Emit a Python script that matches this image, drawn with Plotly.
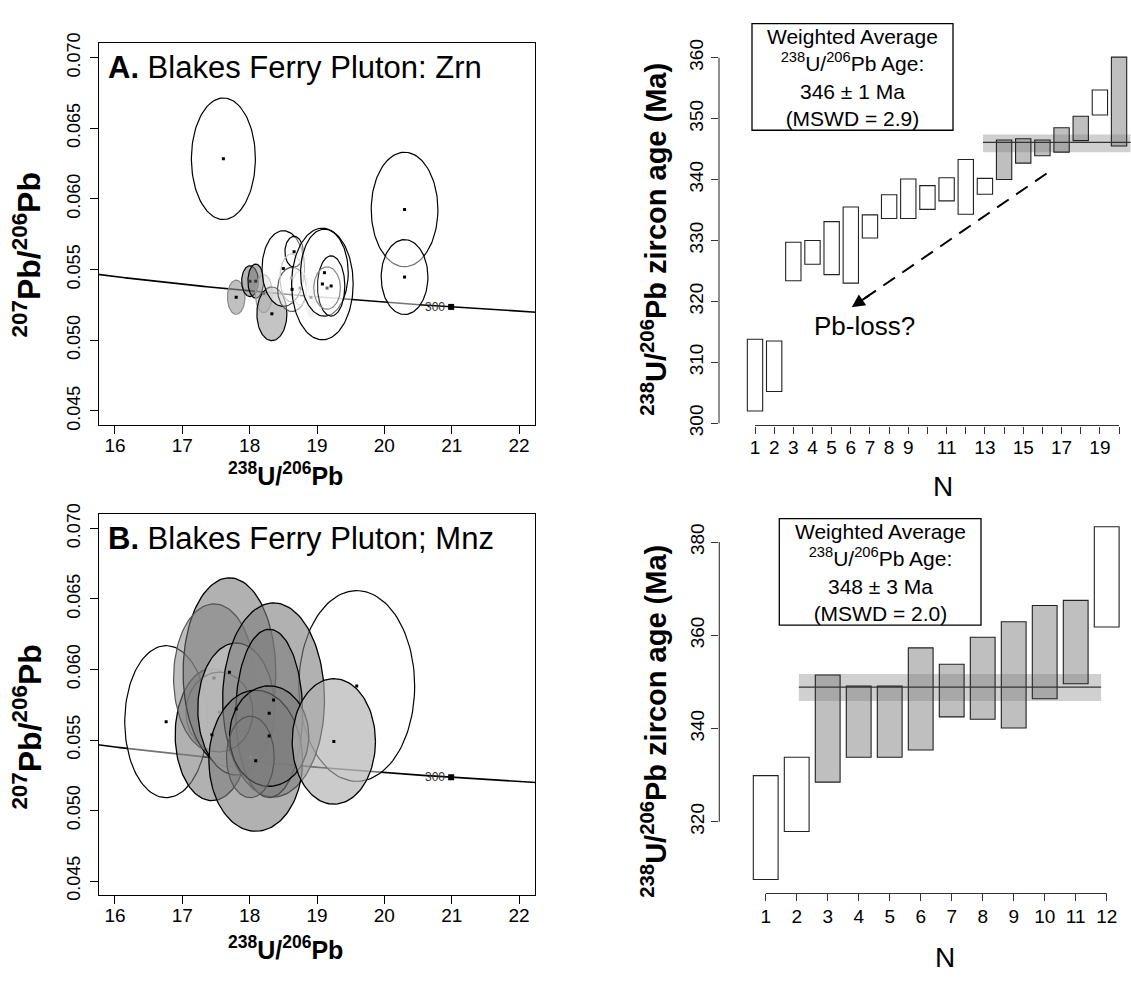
import numpy as np
import plotly.graph_objects as go

W, H = 1131, 982
FONT = "Liberation Sans"

# ---------------- data ----------------
# Panel A (zircon) ellipses: centre x (238U/206Pb), centre y (207Pb/206Pb), half-axes
A_X  = [17.61, 20.30, 20.30, 17.80, 18.005, 18.09, 18.21, 18.33, 18.50, 18.66, 18.63, 18.62, 18.75, 18.91, 19.08, 19.11, 19.21, 19.15]
A_Y  = [0.06284, 0.05925, 0.05447, 0.05304, 0.05418, 0.05418, 0.05330, 0.05187, 0.05507, 0.05626, 0.05360, 0.05441, 0.05370, 0.05303, 0.05398, 0.05478, 0.05384, 0.05369]
A_SX = [0.475, 0.495, 0.347, 0.130, 0.124, 0.116, 0.126, 0.223, 0.316, 0.136, 0.215, 0.170, 0.120, 0.087, 0.457, 0.354, 0.203, 0.198]
A_SY = [0.0043, 0.00405, 0.00265, 0.00121, 0.00109, 0.00121, 0.00135, 0.0019, 0.00268, 0.00109, 0.00156, 0.0017, 0.0012, 0.00144, 0.00395, 0.00308, 0.00213, 0.0015]
A_KIND = ["white", "white", "white", "light", "dark", "dark", "pale", "mid", "white", "white", "whitegrey",
          "faint", "faint", "ghost", "white", "white", "white", "whitegrey2"]

# Panel B (monazite) ellipses (drawing order)
B_X  = [16.76, 19.59, 17.44, 17.70, 17.47, 17.80, 18.355, 18.29, 18.09, 18.29, 19.25, 18.01, 17.55]
B_Y  = [0.0563, 0.05883, 0.05538, 0.0598, 0.0594, 0.0572, 0.05784, 0.05689, 0.05353, 0.05528, 0.0549, 0.0538, 0.05698]
B_SX = [0.615, 0.86, 0.546, 0.688, 0.60, 0.57, 0.756, 0.496, 0.695, 0.588, 0.618, 0.354, 0.496]
B_SY = [0.00539, 0.00676, 0.00468, 0.0067, 0.00525, 0.00468, 0.00688, 0.00597, 0.005, 0.00356, 0.00445, 0.00289, 0.00283]
B_KIND = ["white", "white", "bmid", "bdark", "bgreyline", "bpale", "bmid", "bmid", "bmid", "bdark", "blight", "bgreyline", "bfaint"]

# Concordia (ages in Ma) and decay constants
CONC_AGES = list(range(250, 421))
MARKER_AGE = 300
L238, L235, U85 = 1.55125e-10, 9.8485e-10, 137.818

# Top-right: zircon 238U/206Pb ages (Ma), ranked
TOP_N  = list(range(1, 21))
TOP_LO = [302.0, 305.2, 323.4, 326.1, 324.4, 323.0, 330.4, 333.6, 333.6, 335.1, 336.5, 334.3, 337.6, 340.0, 342.7, 343.9, 344.5, 346.4, 350.6, 345.5]
TOP_HI = [313.8, 313.5, 329.7, 330.0, 333.1, 335.5, 334.2, 337.5, 340.1, 339.0, 340.3, 343.3, 340.2, 346.5, 346.7, 346.5, 348.5, 350.4, 354.7, 360.1]
TOP_USED = [0]*13 + [1, 1, 1, 1, 1, 0, 1]
TOP_MEAN, TOP_MEAN_LO, TOP_MEAN_HI = 346.1, 344.5, 347.4
TOP_BAND_N = [12.9, 20.6]
TOP_TICKS = list(range(1, 21))
TOP_TICKTEXT = ["1", "2", "3", "4", "5", "6", "7", "8", "9", "", "11", "", "13", "", "15", "", "17", "", "19", ""]
TOP_BOX = ["Weighted Average", "<sup>238</sup>U/<sup>206</sup>Pb Age:", "346 ± 1 Ma", "(MSWD = 2.9)"]

# Bottom-right: monazite 238U/206Pb ages (Ma), ranked
BOT_N  = list(range(1, 13))
BOT_LO = [307.6, 317.9, 328.5, 333.85, 333.85, 335.4, 342.5, 342.0, 340.1, 346.4, 349.6, 361.8]
BOT_HI = [329.9, 333.85, 351.5, 349.1, 349.1, 357.3, 353.8, 359.6, 362.9, 366.4, 367.5, 383.3]
BOT_USED = [0, 0, 1, 1, 1, 1, 1, 1, 1, 1, 1, 0]
BOT_MEAN, BOT_MEAN_LO, BOT_MEAN_HI = 348.9, 345.9, 351.7
BOT_BAND_N = [2.07, 11.82]
BOT_BOX = ["Weighted Average", "<sup>238</sup>U/<sup>206</sup>Pb Age:", "348 ± 3 Ma", "(MSWD = 2.0)"]

# Pb-loss arrow (N, age)
ARROW_FROM = (16.22, 341.0)
ARROW_TO = (6.05, 319.05)

# ---------------- styles ----------------
STYLE = {
    "white":      dict(fill="rgba(255,255,255,0.45)", line="#000000", w=1.2, dot="#000"),
    "whitegrey":  dict(fill="rgba(255,255,255,0.3)", line="#555555", w=1.2, dot="#000"),
    "whitegrey2": dict(fill="rgba(255,255,255,0.2)", line="#888888", w=1.2, dot="#666"),
    "light":      dict(fill="rgba(150,150,150,0.6)", line="#8a8a8a", w=1.2, dot="#000"),
    "dark":       dict(fill="rgba(120,120,120,0.55)", line="#000000", w=1.2, dot="#333"),
    "pale":       dict(fill="rgba(190,190,190,0.5)", line="#999999", w=1.2, dot="#777"),
    "mid":        dict(fill="rgba(165,165,165,0.65)", line="#000000", w=1.2, dot="#000"),
    "faint":      dict(fill="rgba(255,255,255,0)", line="#c8c8c8", w=1.2, dot="#aaa"),
    "ghost":      dict(fill="rgba(228,228,228,0.8)", line="rgba(0,0,0,0)", w=0, dot="#aaa"),
    "bdark":      dict(fill="rgba(125,125,125,0.6)", line="#000000", w=1.3, dot="#000"),
    "bmid":       dict(fill="rgba(125,125,125,0.6)", line="#000000", w=1.3, dot="#000"),
    "bgreyline":  dict(fill="rgba(125,125,125,0.5)", line="#555555", w=1.2, dot="#888"),
    "blight":     dict(fill="rgba(175,175,175,0.65)", line="#000000", w=1.3, dot="#000"),
    "bpale":      dict(fill="rgba(190,190,190,0.85)", line="#000000", w=1.3, dot="#000"),
    "bfaint":     dict(fill="rgba(255,255,255,0)", line="rgba(80,80,80,0.45)", w=1.2, dot="#999"),
}
GRAY_BAR = "rgba(128,128,128,0.5)"
BAND = "rgba(128,128,128,0.37)"


def px(x):
    return x / W


def py(y):
    return 1 - y / H


def ellipse(cx, cy, sx, sy, n=120):
    th = np.linspace(0, 2 * np.pi, n)
    return cx + sx * np.cos(th), cy + sy * np.sin(th)


def concordia(ages_ma):
    t = np.asarray(ages_ma, dtype=float) * 1e6
    e8 = np.exp(L238 * t) - 1
    e5 = np.exp(L235 * t) - 1
    return 1 / e8, e5 / e8 / U85


fig = go.Figure()

# ---------------- ellipse panels ----------------
for (xs, ys, sxs, sys_, kinds, xa, ya) in [
    (A_X, A_Y, A_SX, A_SY, A_KIND, "x", "y"),
    (B_X, B_Y, B_SX, B_SY, B_KIND, "x2", "y2"),
]:
    cxc, cyc = concordia(CONC_AGES)
    fig.add_trace(go.Scatter(x=cxc, y=cyc, mode="lines", line=dict(color="black", width=1.6),
                             xaxis=xa, yaxis=ya, hoverinfo="skip"))
    for cx, cy, sx, sy, k in zip(xs, ys, sxs, sys_, kinds):
        st = STYLE[k]
        ex, ey = ellipse(cx, cy, sx, sy)
        fig.add_trace(go.Scatter(x=ex, y=ey, mode="lines", fill="toself", fillcolor=st["fill"],
                                 line=dict(color=st["line"], width=st["w"]),
                                 xaxis=xa, yaxis=ya, hoverinfo="skip"))
    fig.add_trace(go.Scatter(x=xs, y=ys, mode="markers",
                             marker=dict(symbol="square", size=3, color=[STYLE[k]["dot"] for k in kinds]),
                             xaxis=xa, yaxis=ya, hoverinfo="skip"))
    mx, my = concordia([MARKER_AGE])
    fig.add_trace(go.Scatter(x=mx, y=my, mode="markers", marker=dict(symbol="square", size=6, color="black"),
                             xaxis=xa, yaxis=ya, hoverinfo="skip"))
    fig.add_annotation(x=mx[0], y=my[0], xref=xa, yref=ya, text=str(MARKER_AGE), showarrow=False,
                       xanchor="right", xshift=-4, font=dict(size=12, color="#333", family=FONT))

# ---------------- bar panels ----------------
for (ns, lo, hi, used, xa, ya) in [
    (TOP_N, TOP_LO, TOP_HI, TOP_USED, "x3", "y3"),
    (BOT_N, BOT_LO, BOT_HI, BOT_USED, "x4", "y4"),
]:
    fig.add_trace(go.Bar(x=ns, base=lo, y=[h - l for h, l in zip(hi, lo)], width=0.8,
                         marker=dict(color=[GRAY_BAR if u else "white" for u in used],
                                     line=dict(color="#222", width=1.1)),
                         xaxis=xa, yaxis=ya, hoverinfo="skip"))

# Weighted mean bands and lines
for (band_n, m, mlo, mhi, xa, ya) in [
    (TOP_BAND_N, TOP_MEAN, TOP_MEAN_LO, TOP_MEAN_HI, "x3", "y3"),
    (BOT_BAND_N, BOT_MEAN, BOT_MEAN_LO, BOT_MEAN_HI, "x4", "y4"),
]:
    fig.add_shape(type="rect", xref=xa, yref=ya, x0=band_n[0], x1=band_n[1], y0=mlo, y1=mhi,
                  fillcolor=BAND, line=dict(width=0), layer="below")
    fig.add_shape(type="line", xref=xa, yref=ya, x0=band_n[0], x1=band_n[1], y0=m, y1=m,
                  line=dict(color="#333", width=1.2), layer="above")

# Pb-loss dashed arrow
slope = (ARROW_FROM[1] - ARROW_TO[1]) / (ARROW_FROM[0] - ARROW_TO[0])
tail_n = ARROW_TO[0] + 0.55
fig.add_trace(go.Scatter(x=[ARROW_FROM[0], tail_n], y=[ARROW_FROM[1], ARROW_TO[1] + 0.55 * slope],
                         mode="lines", line=dict(color="black", width=2, dash="14px,9px"),
                         xaxis="x3", yaxis="y3", hoverinfo="skip"))
fig.add_annotation(x=ARROW_TO[0], y=ARROW_TO[1], ax=ARROW_TO[0] + 1.0, ay=ARROW_TO[1] + 1.0 * slope,
                   xref="x3", yref="y3", axref="x3", ayref="y3", text="", showarrow=True,
                   arrowhead=2, arrowsize=1.3, arrowwidth=2, arrowcolor="black")
fig.add_annotation(x=6.74, y=315.9, xref="x3", yref="y3", text="Pb-loss?", showarrow=False,
                   font=dict(size=26, family=FONT, color="black"))

# ---------------- axes ----------------
TICKF = dict(size=19, family=FONT, color="black")
YTICKF = dict(size=18, family=FONT, color="black")
frame = dict(showline=True, mirror=True, linecolor="black", linewidth=1.2, ticks="outside",
             ticklen=8, tickwidth=1.2, tickcolor="black", showgrid=False, zeroline=False)
left_xdom = [px(98.8), px(535.2)]
yvals = [0.045, 0.050, 0.055, 0.060, 0.065, 0.070]
ytext = ["%.3f" % v for v in yvals]
xvals = [16, 17, 18, 19, 20, 21, 22]

layout = dict(
    width=W, height=H, margin=dict(l=0, r=0, t=0, b=0),
    paper_bgcolor="white", plot_bgcolor="rgba(0,0,0,0)", showlegend=False,
    font=dict(family=FONT, color="black"),
    xaxis=dict(domain=left_xdom, range=[15.76, 22.24], anchor="y", tickvals=xvals,
               tickfont=TICKF, ticklabelstandoff=-5, **frame),
    yaxis=dict(domain=[py(423.5), py(33.2)], range=[0.044, 0.071], anchor="x", tickvals=yvals,
               ticktext=ytext, tickangle=-90, tickfont=YTICKF, ticklabelstandoff=3, **frame),
    xaxis2=dict(domain=left_xdom, range=[15.76, 22.24], anchor="y2", tickvals=xvals,
                tickfont=TICKF, ticklabelstandoff=-5, **frame),
    yaxis2=dict(domain=[py(904.4), py(514.9)], range=[0.044, 0.071], anchor="x2", tickvals=yvals,
                ticktext=ytext, tickangle=-90, tickfont=YTICKF, ticklabelstandoff=3, **frame),
)
raxis = dict(showline=False, ticks="outside", ticklen=7, tickwidth=1.1, tickcolor="#333",
             showgrid=False, zeroline=False, tickfont=TICKF)
layout["xaxis3"] = dict(domain=[px(719), 1.0], range=[-0.879, 20.624], anchor="y3",
                        tickvals=TOP_TICKS, ticktext=TOP_TICKTEXT, ticklabelstandoff=-2, **raxis)
layout["yaxis3"] = dict(domain=[py(424), py(0)], range=[299.63, 367.67], anchor="x3",
                        tickvals=[300, 310, 320, 330, 340, 350, 360], tickangle=-90, **raxis)
layout["xaxis4"] = dict(domain=[px(719.3), 1.0], range=[-0.497, 12.784], anchor="y4",
                        tickvals=BOT_N, ticklabelstandoff=-1, **raxis)
layout["yaxis4"] = dict(domain=[py(902.7), py(500)], range=[304.61, 389.08], anchor="x4",
                        tickvals=[320, 340, 360, 380], tickangle=-90, **raxis)
fig.update_layout(**layout)

# custom axis lines spanning only the tick range (R style)
for xa, ya, n0, n1, v0, v1, ydom, xdom in [
    ("x3", "y3", 1, 20, 300, 360, layout["yaxis3"]["domain"], layout["xaxis3"]["domain"]),
    ("x4", "y4", 1, 12, 320, 380, layout["yaxis4"]["domain"], layout["xaxis4"]["domain"]),
]:
    fig.add_shape(type="line", xref=xa, yref="paper", x0=n0, x1=n1, y0=ydom[0], y1=ydom[0],
                  line=dict(color="#333", width=1.1))
    fig.add_shape(type="line", xref="paper", yref=ya, x0=xdom[0], x1=xdom[0], y0=v0, y1=v1,
                  line=dict(color="#333", width=1.1))

# ---------------- text ----------------
def ann(x, y, text, size, bold=False, angle=0, xanchor="center", yanchor="middle"):
    fig.add_annotation(x=px(x), y=py(y), xref="paper", yref="paper", text=("<b>%s</b>" % text) if bold else text,
                       showarrow=False, textangle=angle, xanchor=xanchor, yanchor=yanchor,
                       font=dict(size=size, family=FONT, color="black"))

ann(106, 58, "<b>A.</b> Blakes Ferry Pluton: Zrn", 31, xanchor="left")
ann(106, 540, "<b>B.</b> Blakes Ferry Pluton; Mnz", 31, xanchor="left")
ann(27, 250, "<sup>207</sup>Pb/<sup>206</sup>Pb", 32, bold=True, angle=-90)
ann(27, 733, "<sup>207</sup>Pb/<sup>206</sup>Pb", 32, bold=True, angle=-90)
ann(285, 474, "<sup>238</sup>U/<sup>206</sup>Pb", 25, bold=True)
ann(285, 958, "<sup>238</sup>U/<sup>206</sup>Pb", 25, bold=True)
ann(654, 234, "<sup>238</sup>U/<sup>206</sup>Pb zircon age (Ma)", 29, bold=True, angle=-90)
ann(654, 727, "<sup>238</sup>U/<sup>206</sup>Pb zircon age (Ma)", 29, bold=True, angle=-90)
ann(943, 486, "N", 28)
ann(945, 968, "N", 28)

# weighted-average boxes (one multi-line text block each)
for (x0, y0, x1, y1, lines) in [
    (752, 13, 953, 122, TOP_BOX),
    (779.3, 519.3, 981, 628.3, BOT_BOX),
]:
    fig.add_shape(type="rect", xref="paper", yref="paper", x0=px(x0), x1=px(x1), y0=py(y1), y1=py(y0),
                  line=dict(color="black", width=1.3), fillcolor="white", layer="above")
    ann((x0 + x1) / 2, (y0 + y1) / 2 + 0.5, "<br>".join(lines), 21)

fig.write_html("out.html")
